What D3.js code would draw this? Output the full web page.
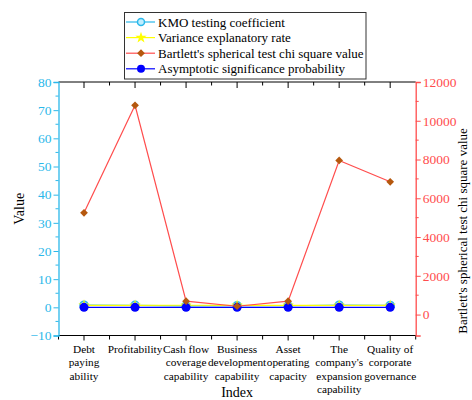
<!DOCTYPE html>
<html>
<head>
<meta charset="utf-8">
<script src="https://cdn.jsdelivr.net/npm/d3@7"></script>
<style>
  body { margin: 0; background: #fff; }
  text { font-family: "Liberation Serif", "Times New Roman", serif; }
</style>
</head>
<body>
<svg width="472" height="400"></svg>
<script>
// categories and series
const categories = [
  ["Debt", "paying", "ability"],
  ["Profitability"],
  ["Cash flow", "coverage", "capability"],
  ["Business", "development", "capability"],
  ["Asset", "operating", "capacity"],
  ["The", "company's", "expansion", "capability"],
  ["Quality of", "corporate", "governance"]
];
const kmo = [0.78, 0.72, 0.55, 0.6, 0.56, 0.75, 0.68];
const variance = [0.72, 0.68, 0.74, 0.7, 0.72, 0.7, 0.66];
const bartlett = [5250, 10800, 690, 430, 690, 7950, 6850];
const asymptotic = [0, 0, 0, 0, 0, 0, 0];
const leftTicks = [-10, 0, 10, 20, 30, 40, 50, 60, 70, 80];
const rightTicks = [0, 2000, 4000, 6000, 8000, 10000, 12000];

const cyan = "#2bb8ea", red = "#ff4d4d", brown = "#b5580e", blue = "#0000ff", yellow = "#ffff00";

const svg = d3.select("svg");
const L = 58.5, R = 415.7, T = 82, B = 335.5;

const x = d3.scaleLinear().domain([0.5, 7.5]).range([L, R]);
const yL = d3.scaleLinear().domain([-10, 80]).range([B, T]);
const yR = d3.scaleLinear().domain([-1080, 12000]).range([B, T]);

// top frame with inward ticks
svg.append("line").attr("x1", L).attr("x2", R).attr("y1", T).attr("y2", T)
  .attr("stroke", "#000").attr("stroke-width", 1);
d3.range(1, 7.5, 0.5).forEach(v => {
  const major = Number.isInteger(v);
  svg.append("line").attr("x1", x(v)).attr("x2", x(v))
    .attr("y1", T).attr("y2", T + (major ? 6 : 3.5))
    .attr("stroke", "#000").attr("stroke-width", 1);
});

// bottom axis
const xAxis = svg.append("g").attr("transform", `translate(0,${B})`);
xAxis.append("line").attr("x1", L).attr("x2", R).attr("stroke", "#000").attr("stroke-width", 1.2);
d3.range(0.5, 7.6, 0.5).forEach(v => {
  const major = Number.isInteger(v);
  xAxis.append("line").attr("x1", x(v)).attr("x2", x(v))
    .attr("y1", 0).attr("y2", major ? 5 : 4)
    .attr("stroke", "#000").attr("stroke-width", 1);
});
categories.forEach((lines, i) => {
  const t = xAxis.append("text").attr("text-anchor", "middle")
    .attr("font-size", 11.3).attr("fill", "#000");
  lines.forEach((s, j) => {
    t.append("tspan").attr("x", x(i + 1)).attr("y", 17.5 + j * 13.3).text(s);
  });
});
svg.append("text").attr("x", (L + R) / 2).attr("y", 397).attr("text-anchor", "middle")
  .attr("font-size", 14).text("Index");

// left axis
const leftAxis = svg.append("g").attr("transform", `translate(${L},0)`)
  .call(d3.axisLeft(yL).tickValues(leftTicks).tickSize(5).tickPadding(2));
leftAxis.select(".domain").attr("stroke", cyan).attr("stroke-width", 1.3);
leftAxis.selectAll(".tick line").attr("stroke", cyan);
leftAxis.selectAll(".tick text").attr("fill", cyan).attr("font-size", 13.5)
  .attr("font-family", "Liberation Serif, serif");
d3.range(-5, 80, 10).forEach(v => {
  leftAxis.append("line").attr("x1", 0).attr("x2", -3).attr("y1", yL(v)).attr("y2", yL(v))
    .attr("stroke", cyan);
});
svg.append("text").attr("transform", `translate(24,${(T + B) / 2}) rotate(-90)`)
  .attr("text-anchor", "middle").attr("font-size", 14).text("Value");

// right axis
const rightAxis = svg.append("g").attr("transform", `translate(${R},0)`)
  .call(d3.axisRight(yR).tickValues(rightTicks).tickSize(5).tickPadding(2).tickFormat(d3.format("d")));
rightAxis.select(".domain").attr("stroke", red).attr("stroke-width", 1.3);
rightAxis.selectAll(".tick line").attr("stroke", red);
rightAxis.selectAll(".tick text").attr("fill", red).attr("font-size", 13.5)
  .attr("font-family", "Liberation Serif, serif");
d3.range(1000, 12000, 2000).forEach(v => {
  rightAxis.append("line").attr("x1", 0).attr("x2", 3).attr("y1", yR(v)).attr("y2", yR(v))
    .attr("stroke", red);
});
svg.append("text").attr("transform", `translate(467,231) rotate(-90)`)
  .attr("text-anchor", "middle").attr("font-size", 13)
  .text("Bartlett's spherical test chi square value");

// series
const lineL = d3.line().x((d, i) => x(i + 1)).y(d => yL(d));
const lineR = d3.line().x((d, i) => x(i + 1)).y(d => yR(d));
const star = d3.symbol().type(d3.symbolStar).size(40);
const diamond = d3.symbol().type(d3.symbolSquare).size(30);

svg.append("path").datum(kmo).attr("d", lineL).attr("fill", "none").attr("stroke", cyan).attr("stroke-width", 1.2);
svg.selectAll(".kmo").data(kmo).enter().append("circle")
  .attr("cx", (d, i) => x(i + 1)).attr("cy", d => yL(d)).attr("r", 4)
  .attr("fill", "#bfeeff").attr("stroke", cyan).attr("stroke-width", 1.5);

svg.append("path").datum(variance).attr("d", lineL).attr("fill", "none").attr("stroke", yellow).attr("stroke-width", 1.2);
svg.selectAll(".var").data(variance).enter().append("path")
  .attr("d", star).attr("fill", yellow)
  .attr("transform", (d, i) => `translate(${x(i + 1)},${yL(d)})`);

svg.append("path").datum(asymptotic).attr("d", lineL).attr("fill", "none").attr("stroke", blue).attr("stroke-width", 1.2);
svg.selectAll(".asy").data(asymptotic).enter().append("circle")
  .attr("cx", (d, i) => x(i + 1)).attr("cy", d => yL(d)).attr("r", 4.5).attr("fill", blue);

svg.append("path").datum(bartlett).attr("d", lineR).attr("fill", "none").attr("stroke", red).attr("stroke-width", 1.2);
svg.selectAll(".bart").data(bartlett).enter().append("path")
  .attr("d", diamond).attr("fill", brown)
  .attr("transform", (d, i) => `translate(${x(i + 1)},${yR(d)}) rotate(45)`);

// legend
const legendItems = [
  { name: "KMO testing coefficient", line: cyan, kind: "kmo" },
  { name: "Variance explanatory rate", line: yellow, kind: "star" },
  { name: "Bartlett's spherical test chi square value", line: red, kind: "diamond" },
  { name: "Asymptotic significance probability", line: blue, kind: "dot" }
];
const lg = svg.append("g");
lg.append("rect").attr("x", 124.5).attr("y", 12.5).attr("width", 241.5).attr("height", 66.5)
  .attr("fill", "#fff").attr("stroke", "#333").attr("stroke-width", 1);
legendItems.forEach((it, i) => {
  const cy = 22 + i * 15.6;
  lg.append("line").attr("x1", 126).attr("x2", 155).attr("y1", cy).attr("y2", cy)
    .attr("stroke", it.line).attr("stroke-width", 1.2);
  if (it.kind === "kmo") {
    lg.append("circle").attr("cx", 141).attr("cy", cy).attr("r", 3.5)
      .attr("fill", "#bfeeff").attr("stroke", cyan).attr("stroke-width", 1.5);
  } else if (it.kind === "star") {
    lg.append("path").attr("d", star).attr("fill", yellow).attr("transform", `translate(141,${cy})`);
  } else if (it.kind === "diamond") {
    lg.append("path").attr("d", diamond).attr("fill", brown).attr("transform", `translate(141,${cy}) rotate(45)`);
  } else {
    lg.append("circle").attr("cx", 141).attr("cy", cy).attr("r", 4).attr("fill", blue);
  }
  lg.append("text").attr("x", 158).attr("y", cy + 4.5).attr("font-size", 13).text(it.name);
});
</script>
</body>
</html>
